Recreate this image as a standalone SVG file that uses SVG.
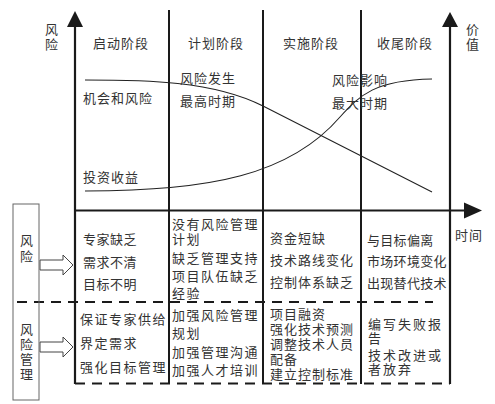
<svg xmlns="http://www.w3.org/2000/svg" width="495" height="404" viewBox="0 0 495 404">
<style>
text{font-family:"Noto Sans CJK SC","Noto Sans",sans-serif;font-size:13px;fill:#333}
.ax{stroke:#1a1a1a;stroke-width:2.2;fill:none}
.ph{stroke:#1a1a1a;stroke-width:2;fill:none}
.cv{stroke:#222;stroke-width:1.1;fill:none}
.dash{stroke:#1a1a1a;stroke-width:2;stroke-dasharray:10 7;fill:none}
.hol{fill:#fff;stroke:#444;stroke-width:1}
.head{fill:#1a1a1a}
.s05{letter-spacing:0.5px}
.s1{letter-spacing:1px}
.s15{letter-spacing:1.5px}
.s2{letter-spacing:2px}
.s03{letter-spacing:0.3px}
</style>
<rect width="495" height="404" fill="#fff"/>
<g id="connectors">
  <line class="ax" x1="75" y1="26" x2="75" y2="384"/>
  <polygon class="head" points="75,11 67,27 83,27"/>
  <line class="ax" x1="450" y1="26" x2="450" y2="384"/>
  <polygon class="head" points="450,12 442,27 458,27"/>
  <line class="ax" x1="75" y1="210.5" x2="465" y2="210.5"/>
  <polygon class="head" points="482,210.5 464,202.5 464,218.5"/>
  <line class="ph" x1="169" y1="10" x2="169" y2="384"/>
  <line class="ph" x1="263" y1="10" x2="263" y2="384"/>
  <line class="ph" x1="361" y1="10" x2="361" y2="384"/>
  <line class="dash" x1="17" y1="302" x2="433" y2="302"/>
  <line class="dash" x1="75" y1="383.5" x2="450" y2="383.5"/>
  <path class="cv" d="M85,80 C145,80 213,80.5 263,106 L432,192"/>
  <path class="cv" d="M85,191 C210,191 290,175 340,117 C360,95 375,80 432,79"/>
  <polygon class="hol" points="40,260 63,260 63,255 73,265 63,275 63,270 40,270"/>
  <polygon class="hol" points="40,342 63,342 63,337 73,347 63,357 63,352 40,352"/>
</g>
<g id="axis-labels">
  <text x="45" y="34">风<tspan x="45" y="49">险</tspan></text>
  <text x="466" y="34">价<tspan x="466" y="49">值</tspan></text>
  <text x="455" y="240" class="s1">时间</text>
</g>
<g id="phases">
  <text x="93" y="48" class="s1">启动阶段</text>
  <text x="188" y="48" class="s1">计划阶段</text>
  <text x="283" y="48" class="s1">实施阶段</text>
  <text x="377" y="48" class="s1">收尾阶段</text>
</g>
<g id="curve-labels">
  <text x="83" y="103" class="s1">机会和风险</text>
  <text x="83" y="182" class="s1">投资收益</text>
  <text x="180" y="83" class="s1">风险发生<tspan x="180" y="106">最高时期</tspan></text>
  <text x="332" y="85" class="s1">风险影响<tspan x="332" y="108">最大时期</tspan></text>
</g>
<g id="side-box">
  <rect x="13" y="204" width="26" height="196" fill="none" stroke="#666" stroke-width="1"/>
  <text x="20" y="245">风<tspan x="20" y="261">险</tspan></text>
  <text x="20" y="334">风<tspan x="20" y="349">险</tspan><tspan x="20" y="364">管</tspan><tspan x="20" y="379">理</tspan></text>
</g>
<g id="risk-start">
  <text x="83" y="244" class="s05">专家缺乏<tspan x="83" y="267">需求不清</tspan><tspan x="83" y="289">目标不明</tspan></text>
</g>
<g id="risk-plan">
  <text x="172" y="229" class="s15">没有风险管理<tspan x="172" y="244">计划</tspan><tspan x="172" y="263">缺乏管理支持</tspan><tspan x="172" y="281">项目队伍缺乏</tspan><tspan x="172" y="298">经验</tspan></text>
</g>
<g id="risk-exec">
  <text x="270" y="243" class="s1">资金短缺<tspan x="270" y="265">技术路线变化</tspan><tspan x="270" y="287">控制体系缺乏</tspan></text>
</g>
<g id="risk-close">
  <text x="367" y="245" class="s03">与目标偏离<tspan x="367" y="266">市场环境变化</tspan><tspan x="367" y="288">出现替代技术</tspan></text>
</g>
<g id="mgmt-start">
  <text x="80" y="324" class="s15">保证专家供给<tspan x="80" y="348">界定需求</tspan><tspan x="80" y="372">强化目标管理</tspan></text>
</g>
<g id="mgmt-plan">
  <text x="172" y="320" class="s15">加强风险管理<tspan x="172" y="338">规划</tspan><tspan x="172" y="357">加强管理沟通</tspan><tspan x="172" y="375">加强人才培训</tspan></text>
</g>
<g id="mgmt-exec">
  <text x="270" y="319" class="s1">项目融资<tspan x="270" y="334">强化技术预测</tspan><tspan x="270" y="349">调整技术人员</tspan><tspan x="270" y="364">配备</tspan><tspan x="270" y="379">建立控制标准</tspan></text>
</g>
<g id="mgmt-close">
  <text x="368" y="329" class="s2">编写失败报<tspan x="368" y="343">告</tspan><tspan x="368" y="360">技术改进或</tspan><tspan x="368" y="374">者放弃</tspan></text>
</g>
</svg>
